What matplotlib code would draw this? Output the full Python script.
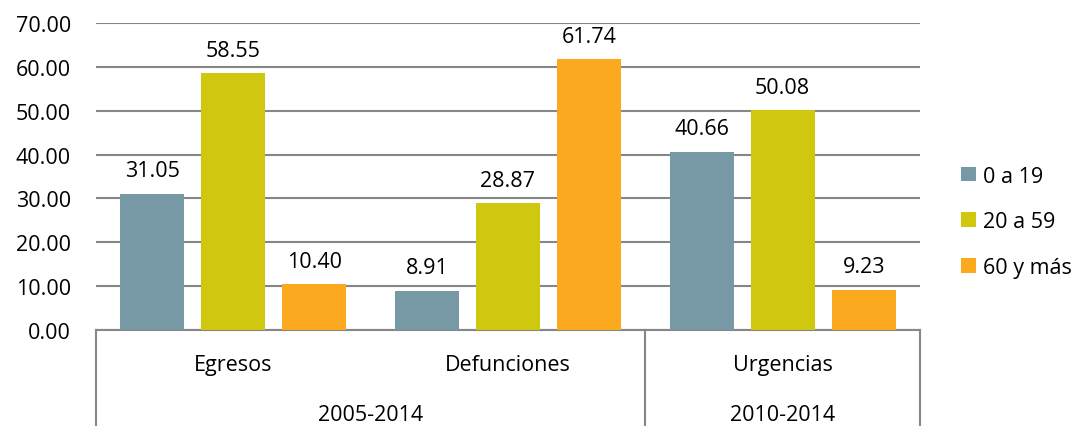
import numpy as np
import matplotlib.pyplot as plt
import matplotlib.transforms as mtransforms

categorias = ["Egresos", "Defunciones", "Urgencias"]
periodos = ["2005-2014", "2010-2014"]
grupos = ["0 a 19", "20 a 59", "60 y más"]
v_0a19 = [31.05, 8.91, 40.66]
v_20a59 = [58.55, 28.87, 50.08]
v_60ymas = [10.40, 61.74, 9.23]
colores = ["#7799A5", "#D0C70F", "#FBAA20"]

plt.rcParams['font.family'] = ['Open Sans', 'DejaVu Sans']
fs = 15.5

fig = plt.figure(figsize=(10.81, 4.27), dpi=100)
ax = fig.add_axes([0.0888, 0.2248, 0.7622, 0.719])

x = np.arange(len(categorias))
ancho = 0.233
paso = 0.295
series = [v_0a19, v_20a59, v_60ymas]
for i, (vals, col, lab) in enumerate(zip(series, colores, grupos)):
    barras = ax.bar(x + (i - 1) * paso, vals, ancho, color=col, label=lab, zorder=3)
    for b, v in zip(barras, vals):
        ax.annotate("%.2f" % v, (b.get_x() + b.get_width() / 2, v), xytext=(0, 9),
                    textcoords="offset points", ha="center", va="bottom", fontsize=fs)

ax.set_xlim(-0.5, 2.5)
ax.set_ylim(0, 70)
ax.set_yticks(np.arange(0, 71, 10))
ax.set_yticklabels(["%.2f" % t for t in np.arange(0, 71, 10)], fontsize=fs)
ax.tick_params(axis="y", length=0, pad=18)
ax.set_xticks([])
ax.grid(axis="y", color="#868686", linewidth=1.5, zorder=0)
for s in ["left", "right", "top"]:
    ax.spines[s].set_visible(False)
ax.spines["bottom"].set_color("#868686")
ax.spines["bottom"].set_linewidth(1.5)

tr = mtransforms.blended_transform_factory(ax.transData, ax.transAxes)
for xs in [-0.5, 1.5, 2.5]:
    ax.plot([xs, xs], [0, -0.32], transform=tr, color="#868686", lw=1.5, clip_on=False)
for xi, c in zip(x, categorias):
    ax.text(xi, -0.111, c, transform=tr, ha="center", va="center", fontsize=fs)
ax.text(0.5, -0.274, periodos[0], transform=tr, ha="center", va="center", fontsize=fs)
ax.text(2, -0.274, periodos[1], transform=tr, ha="center", va="center", fontsize=fs)

fig.legend(loc="center left", bbox_to_anchor=(0.889, 0.478), frameon=False, fontsize=fs,
           handlelength=0.68, handleheight=0.68, handletextpad=0.35, labelspacing=1.15,
           borderpad=0, borderaxespad=0)

fig.savefig("out.png", dpi=100)
